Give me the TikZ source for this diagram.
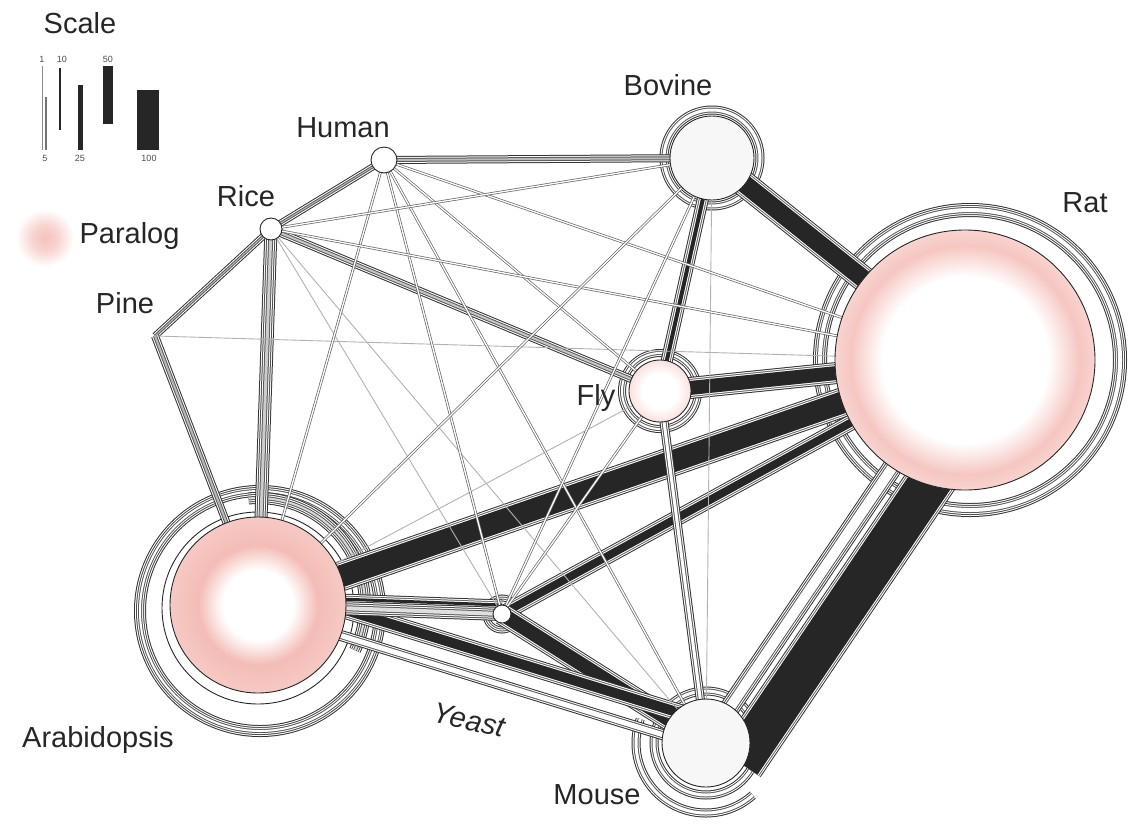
\documentclass[tikz,border=0pt]{standalone}
\usepackage{fontspec}
\setmainfont{Liberation Sans}
\usetikzlibrary{backgrounds}
\definecolor{pinkglow}{RGB}{244,188,182}
\pgfdeclareradialshading{ratglow}{\pgfpoint{0bp}{0bp}}{color(0bp)=(white); color(16bp)=(white); color(22bp)=(pinkglow!85); color(25bp)=(pinkglow!65); color(50bp)=(pinkglow!65)}
\pgfdeclareradialshading{arabglow}{\pgfpoint{0bp}{0bp}}{color(0bp)=(white); color(10bp)=(white); color(17bp)=(pinkglow); color(25bp)=(pinkglow!80); color(50bp)=(pinkglow!80)}
\pgfdeclareradialshading{flyglow}{\pgfpoint{0bp}{0bp}}{color(0bp)=(white); color(14bp)=(white); color(25bp)=(pinkglow!45); color(50bp)=(pinkglow!45)}
\pgfdeclareradialshading{paraglow}{\pgfpoint{0bp}{0bp}}{color(0bp)=(pinkglow!90); color(11bp)=(pinkglow!65); color(25bp)=(white); color(50bp)=(white)}
\tikzset{
  organism/.style={circle, draw=black!85, line width=0.9pt, inner sep=0pt},
  namelabel/.style={font=\fontsize{29}{32}\selectfont, text=black!85},
  scalenum/.style={font=\fontsize{9}{10}\selectfont, text=black!70},
  wire/.style={draw=black!60, double=white, double distance=1.3pt, line width=0.7pt},
  faintwire/.style={draw=black!30, line width=0.9pt},
  cable/.style 2 args={preaction={draw=black!80, line width=#1}, preaction={draw=white, line width=#1-2pt}, preaction={draw=black!65, line width=#1-4pt}, draw=#2, line width=#1-6pt},
  widecable/.style 2 args={preaction={draw=black!80, line width=#1}, preaction={draw=white, line width=#1-2pt}, preaction={draw=black!70, line width=#1-4pt}, preaction={draw=white, line width=#1-6pt}, preaction={draw=black!65, line width=#1-8pt}, draw=#2, line width=#1-10pt},
  band/.style={preaction={draw=black!80, line width=#1}, preaction={draw=white, line width=#1-2pt}, preaction={draw=black!60, line width=#1-4pt}, preaction={draw=white, line width=#1-6pt}, draw=black!85, line width=#1-8pt}
}

\begin{document}
\begin{tikzpicture}[x=1pt, y=-1pt]
    \useasboundingbox (0,0) rectangle (1135,823);

    % organisms
    \node[organism, minimum size=260pt, shading=ratglow] (rat) at (965,360) {};
    \node[organism, minimum size=176pt, shading=arabglow] (arabid) at (258,605) {};
    \node[organism, minimum size=84pt, fill=black!3] (bovine) at (712,158) {};
    \node[organism, minimum size=88pt, fill=black!3] (mouse) at (706,743) {};
    \node[organism, minimum size=62pt, shading=flyglow] (fly) at (660,391) {};
    \node[organism, minimum size=26pt, fill=white] (human) at (384,160) {};
    \node[organism, minimum size=22pt, fill=white] (rice) at (271,229) {};
    \node[organism, minimum size=18pt, fill=white] (yeast) at (502,614) {};
    \coordinate (pine) at (155,336);

    \node[namelabel] (ratname) at (1085,203) {Rat};
    \node[namelabel] (bovinename) at (668,85) {Bovine};
    \node[namelabel] (humanname) at (343,128) {Human};
    \node[namelabel] (ricename) at (246,196) {Rice};
    \node[namelabel] (pinename) at (125,303) {Pine};
    \node[namelabel] (flyname) at (596,398) {Fly};
    \node[namelabel] (arabidname) at (98,740) {Arabidopsis};
    \node[namelabel, font=\fontsize{29}{32}\selectfont\itshape, rotate=-13] (yeastname) at (469,720) {Yeast};
    \node[namelabel] (mousename) at (597,795) {Mouse};

    % legend
    \node[namelabel] (scale) at (80,23) {Scale};
    \draw[black!45, line width=0.8pt] (42,66) -- (42,150);
    \draw[black!55, line width=1.5pt] (46,97) -- (46,150);
    \draw[black!85, line width=2pt] (60,68) -- (60,130);
    \draw[black!85, line width=5pt] (80,85) -- (80,150);
    \draw[black!85, line width=10pt] (108,66) -- (108,124);
    \draw[black!85, line width=22pt] (148,90) -- (148,150);
    \node[scalenum] (s1) at (42,59) {1};
    \node[scalenum] (s5) at (45,158) {5};
    \node[scalenum] (s10) at (62,59) {10};
    \node[scalenum] (s25) at (80,158) {25};
    \node[scalenum] (s50) at (108,59) {50};
    \node[scalenum] (s100) at (149,158) {100};
    \node[circle, minimum size=58pt, inner sep=0pt, shading=paraglow] (paraspot) at (45,238) {};
    \node[namelabel, anchor=west] (paralog) at (76,236) {Paralog};

    \begin{scope}[on background layer]
        % rings round the organisms
        \draw[widecable={14pt}{white}] ([shift={(5,0)}]rat.center) circle[radius=150];
        \draw[widecable={12pt}{white}] ([shift={(2,6)}]arabid.center) circle[radius=120];
        \draw[black!85, line width=0.9pt] ([shift={(0,3)}]arabid.center) circle[radius=96];
        \draw[widecable={12pt}{gray!30}] ([shift={(-95:107)}]arabid.center) arc[start angle=-95, end angle=25, radius=107];
        \draw[cable={9pt}{white}] (bovine.center) circle[radius=48];
        \draw[cable={8pt}{white}] (fly.center) circle[radius=38];
        \draw[cable={9pt}{white}] (mouse.center) circle[radius=52];
        \draw[cable={9pt}{white}] ([shift={(48:70)}]mouse.center) arc[start angle=48, end angle=200, radius=70];
        \draw[cable={7pt}{white}] (yeast.center) circle[radius=16];

        % heavy bands
        \draw[band=50pt] ([shift={(34,20)}]rat.center) -- ([shift={(34,20)}]mouse.center);
        \draw[band=30pt] (arabid.center) -- (rat.center);
        \draw[band=26pt] (bovine.center) -- (rat.center);
        \draw[band=22pt] (fly.center) -- (rat.center);
        \draw[band=16pt] (yeast.center) -- (rat.center);
        \draw[band=22pt] (yeast.center) -- (mouse.center);
        \draw[band=18pt] ([shift={(0,-22)}]arabid.center) -- ([shift={(0,-22)}]mouse.center);
        \draw[band=11pt] ([shift={(0,-9)}]arabid.center) -- ([shift={(0,-9)}]yeast.center);
        \draw[band=12pt] (bovine.center) -- (fly.center);

        % grey cables
        \draw[widecable={20pt}{white}] (rat.center) -- (mouse.center);
        \draw[widecable={14pt}{gray!25}] (arabid.center) -- (yeast.center);
        \draw[cable={11pt}{white}] ([shift={(0,5)}]arabid.center) -- ([shift={(0,5)}]mouse.center);
        \draw[widecable={13pt}{gray!40}] (rice.center) -- (arabid.center);
        \draw[cable={8pt}{gray!55}] (human.center) -- (bovine.center);
        \draw[cable={7pt}{gray!55}] (human.center) -- (rice.center);
        \draw[cable={7pt}{gray!55}] (rice.center) -- (pine);
        \draw[cable={8pt}{gray!55}] (pine) -- (arabid.center);
        \draw[cable={8pt}{gray!45}] (rice.center) -- (fly.center);
        \draw[cable={9pt}{white}] (fly.center) -- (mouse.center);

        % thin links
        \draw[faintwire] (pine) -- (rat.center);
        \draw[faintwire] (bovine.center) -- (mouse.center);
        \draw[faintwire] (rice.center) -- (yeast.center);
        \draw[faintwire] (rice.center) -- (mouse.center);
        \draw[faintwire] (fly.center) -- (arabid.center);
        \draw[wire] (human.center) -- (rat.center);
        \draw[wire] (human.center) -- (fly.center);
        \draw[wire] (human.center) -- (mouse.center);
        \draw[wire] (human.center) -- (yeast.center);
        \draw[wire] (human.center) -- (arabid.center);
        \draw[wire] (rice.center) -- (bovine.center);
        \draw[wire] (rice.center) -- (rat.center);
        \draw[wire] (bovine.center) -- (arabid.center);
        \draw[wire] (bovine.center) -- (yeast.center);
        \draw[wire] (fly.center) -- (yeast.center);
    \end{scope}
\end{tikzpicture}
\end{document}
